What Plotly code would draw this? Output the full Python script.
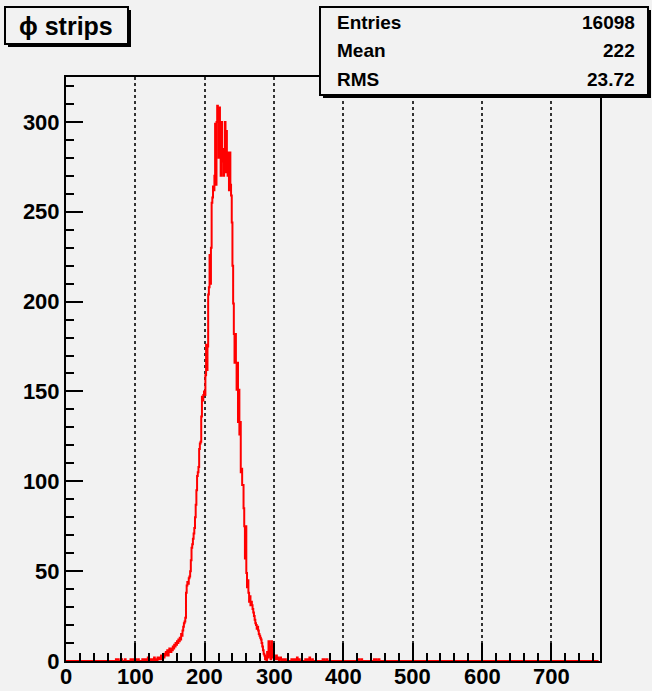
import numpy as np
import plotly.graph_objects as go

# ---- data ----
n_bins = 768
core_start = 130
core_counts = [
    1, 0, 2, 1, 1, 2, 1, 3, 2, 1,
    3, 2, 4, 3, 5, 4, 6, 3, 5, 7,
    6, 5, 7, 6, 8, 7, 9, 8, 10, 9,
    11, 10, 12, 11, 13, 12, 15, 14, 17, 19,
    21, 22, 24, 38, 42, 44, 43, 46, 47, 50,
    56, 63, 65, 68, 71, 74, 80, 87, 95, 103,
    105, 108, 118, 121, 122, 136, 147, 145, 148, 150,
    148, 159, 176, 162, 175, 204, 208, 226, 210, 230,
    255, 258, 264, 262, 270, 299, 265, 300, 309, 305,
    280, 308, 290, 270, 300, 278, 285, 270, 282, 300,
    272, 295, 283, 270, 283, 262, 283, 265, 259, 244,
    220, 199, 182, 166, 182, 166, 151, 166, 133, 151,
    126, 133, 105, 107, 98, 98, 85, 75, 57, 75,
    49, 41, 45, 38, 33, 36, 31, 33, 31, 29,
    27, 25, 23, 21, 20, 18, 19, 17, 15, 14,
    13, 12, 10, 8, 6, 4, 3, 1, 2, 0,
    5, 2, 11, 3, 8, 1, 11, 4, 2, 3,
    1, 2, 1, 3, 1, 2, 1, 0, 1, 2,
    1, 0, 1,
]
tail_bins = [72, 75, 80, 85, 93, 96, 100, 104, 110, 113, 116, 118, 120, 122, 125, 127,
             314, 316, 325, 327, 330, 333, 336, 345, 348, 351, 355, 370, 372, 376,
             422, 426, 444, 447, 451]
tail_counts = [1, 1, 1, 1, 1, 1, 1, 1, 1, 1, 1, 2, 1, 1, 1, 2,
               1, 1, 1, 1, 1, 2, 1, 1, 1, 2, 1, 1, 1, 1,
               1, 1, 1, 1, 1]

x_ticks = [0, 100, 200, 300, 400, 500, 600, 700]
y_ticks = [0, 50, 100, 150, 200, 250, 300]
title_text = "ϕ strips"
stats_labels = ["Entries", "Mean", "RMS"]
stats_values = ["16098", "222", "23.72"]

counts = np.zeros(n_bins)
counts[core_start:core_start + len(core_counts)] = core_counts
for b, c in zip(tail_bins, tail_counts):
    counts[b] = c

edges = np.arange(n_bins + 1)
yvals = np.append(counts, counts[-1])

# ---- layout geometry (pixels) ----
W, H = 652, 691
L, R, T, B = 66, 600, 77, 661
BG = "#f2f2f2"


def px(xp):
    return (xp - L) / (R - L)


def py(yp):
    return (B - yp) / (B - T)


fig = go.Figure()
fig.add_trace(go.Scatter(
    x=edges, y=yvals, mode="lines", line_shape="hv",
    line=dict(color="#ff0000", width=2), hoverinfo="skip", showlegend=False,
))

font_fam = "Liberation Sans, Arial, sans-serif"

fig.update_layout(
    width=W, height=H,
    margin=dict(l=L, r=W - R, t=T, b=H - B, autoexpand=False),
    paper_bgcolor=BG, plot_bgcolor=BG,
    showlegend=False,
    font=dict(family=font_fam, color="black"),
)

fig.update_xaxes(
    range=[0, 770], tickvals=x_ticks, showticklabels=False,
    showline=True, linecolor="black", linewidth=2, mirror=True,
    ticks="inside", ticklen=18, tickwidth=2, tickcolor="black",
    minor=dict(dtick=20, tick0=0, ticks="inside", ticklen=8, tickwidth=2,
               tickcolor="black", showgrid=False),
    showgrid=True, gridcolor="#333333", griddash="dot", gridwidth=1.5,
    zeroline=False,
)
fig.update_yaxes(
    range=[0, 325], tickvals=y_ticks, ticktext=[str(v) for v in y_ticks],
    showline=True, linecolor="black", linewidth=2, mirror=True,
    ticks="inside", ticklen=17, tickwidth=2, tickcolor="black",
    minor=dict(dtick=10, tick0=0, ticks="inside", ticklen=8, tickwidth=2,
               tickcolor="black", showgrid=False),
    showgrid=False, zeroline=False,
    tickfont=dict(family=font_fam, size=22, weight="bold", color="black"),
)

shapes = []
# title box with shadow
shapes.append(dict(type="rect", xref="paper", yref="paper",
                   x0=px(8), x1=px(131), y0=py(47), y1=py(10),
                   fillcolor="black", line=dict(width=0), layer="above"))
shapes.append(dict(type="rect", xref="paper", yref="paper",
                   x0=px(5), x1=px(128), y0=py(44), y1=py(7),
                   fillcolor=BG, line=dict(color="black", width=2), layer="above"))
# stats box with shadow
shapes.append(dict(type="rect", xref="paper", yref="paper",
                   x0=px(323), x1=px(651), y0=py(98), y1=py(10),
                   fillcolor="black", line=dict(width=0), layer="above"))
shapes.append(dict(type="rect", xref="paper", yref="paper",
                   x0=px(320), x1=px(648), y0=py(95), y1=py(7),
                   fillcolor=BG, line=dict(color="black", width=2), layer="above"))
fig.update_layout(shapes=shapes)

ann = [dict(xref="paper", yref="paper", x=px(66), y=py(26), text=title_text,
            showarrow=False, xanchor="center", yanchor="middle",
            font=dict(family=font_fam, size=25, weight="bold", color="black"))]
row_y = [22, 51, 80]
for lab, val, ry in zip(stats_labels, stats_values, row_y):
    ann.append(dict(xref="paper", yref="paper", x=px(335), y=py(ry), text=lab,
                    showarrow=False, xanchor="left", yanchor="middle",
                    font=dict(family=font_fam, size=19, weight="bold", color="black")))
    ann.append(dict(xref="paper", yref="paper", x=px(637), y=py(ry), text=val,
                    showarrow=False, xanchor="right", yanchor="middle",
                    font=dict(family=font_fam, size=19, weight="bold", color="black")))
# x tick labels placed as annotations at data x positions
for v in x_ticks:
    ann.append(dict(xref="x", yref="paper", x=v, y=py(676), text=str(v),
                    showarrow=False, xanchor="center", yanchor="middle",
                    font=dict(family=font_fam, size=22, weight="bold", color="black")))
fig.update_layout(annotations=ann)

fig.write_html("out.html")
